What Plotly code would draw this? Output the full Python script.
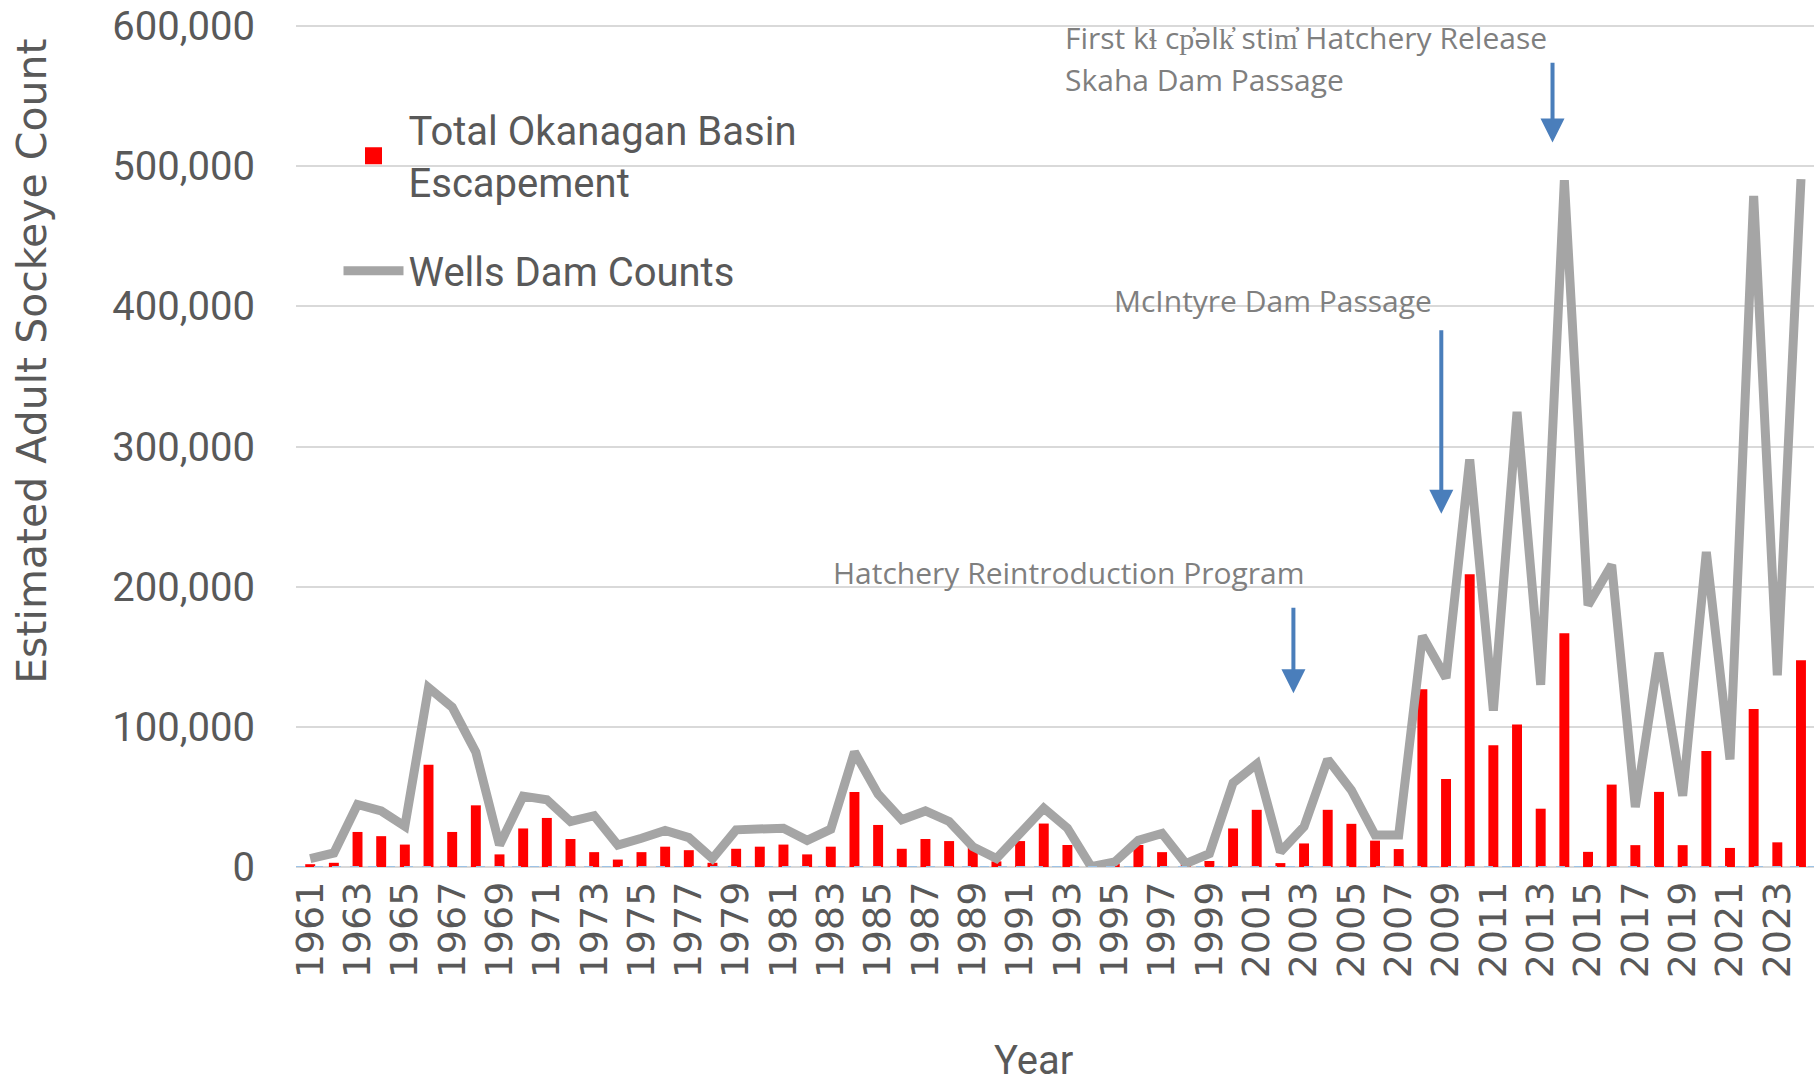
import plotly.graph_objects as go

years = list(range(1961, 2025))

escapement = [
    2000, 3000, 25000, 22000, 16000, 73000, 25000, 44000, 9000, 27500,
    35000, 20000, 10600, 5300, 10600, 14500, 12000, 3000, 13000, 14500,
    16000, 9000, 14500, 53500, 30000, 13000, 20000, 18500, 15700, 4000,
    18500, 31000, 15700, 500, 2500, 15700, 10600, 2000, 4300, 27500,
    40800, 2800, 16800, 40800, 30800, 18800, 12800, 126800, 62800, 208800,
    86800, 101600, 41600, 166800, 10800, 58800, 15600, 53600, 15600, 82800,
    13600, 112800, 17600, 147600,
]

wells = [
    6000, 10000, 44600, 40000, 29000, 128000, 114000, 82000, 15700, 50600,
    48000, 32500, 36600, 15700, 20500, 26000, 21000, 6000, 26500, 26500,
    27700, 19000, 27000, 82000, 52000, 33700, 40000, 32500, 14500, 6000,
    25000, 42000, 27700, 300, 3600, 19000, 24000, 2400, 9600, 60000,
    73500, 10800, 28800, 76800, 54800, 22800, 22800, 164800, 134800, 290800,
    111600, 324800, 130000, 490000, 186800, 215600, 42800, 152800, 50800, 224800,
    76800, 478800, 136800, 490800,
]

tick_years = list(range(1961, 2024, 2))
y_ticks = [0, 100000, 200000, 300000, 400000, 500000, 600000]
y_tick_text = ["0", "100,000", "200,000", "300,000", "400,000", "500,000", "600,000"]

# annotation events: (label lines, text x, text y, arrow x, arrow top, arrow bottom)
events = [
    (["Hatchery Reintroduction Program"], 1983.0, [210000], 2002.55, 186000, 124000),
    (["McIntyre Dam Passage"], 1994.9, [404000], 2008.8, 384000, 252000),
    (["First kɬ cp̓əlk̓ stim̓ Hatchery Release", "Skaha Dam Passage"], 1992.8, [592000, 562000], 2013.5, 575000, 517000),
]

FONT = "Roboto, sans-serif"
TXT = "#595959"
RED = "#FF0000"

fig = go.Figure()
fig.add_trace(go.Bar(
    x=years, y=escapement, name="Total Okanagan Basin<br>Escapement",
    marker=dict(color=RED, line=dict(width=0)), width=0.42,
    legendgroup="a", showlegend=False,
))
# legend-only entry (no data) so the swatch can be drawn larger
fig.add_trace(go.Bar(
    x=[None], y=[None], name="Total Okanagan Basin<br>Escapement",
    marker=dict(color=RED, line=dict(color=RED, width=5)),
    legendgroup="a", showlegend=True, hoverinfo="skip",
))
fig.add_trace(go.Scatter(
    x=years, y=wells, name="Wells Dam Counts", mode="lines",
    line=dict(color="#A5A5A5", width=9), legendgroup="b",
))

fig.add_hline(y=0, line=dict(color="#9DC3E6", width=2, dash="dash"), layer="above")

for lines, tx, tys, axx, ytop, ybot in events:
    for line, ty in zip(lines, tys):
        fig.add_annotation(x=tx, y=ty, xref="x", yref="y", text=line, showarrow=False,
                           xanchor="left", yanchor="middle",
                           font=dict(family="Open Sans", size=30, color="#7F7F7F"))
    fig.add_annotation(x=axx, y=ybot, ax=axx, ay=ytop, xref="x", yref="y",
                       axref="x", ayref="y", text="", showarrow=True,
                       arrowhead=2, arrowsize=1.2, arrowwidth=4, arrowcolor="#4A7EBB")

# axis titles as annotations (placed off-centre as in the original)
fig.add_annotation(x=-0.1735, y=0.60, xref="paper", yref="paper",
                   text="Estimated Adult Sockeye Count", textangle=-90, showarrow=False,
                   xanchor="center", yanchor="middle",
                   font=dict(family="DejaVu Sans", size=41, color=TXT))
fig.add_annotation(x=0.486, y=-0.229, xref="paper", yref="paper",
                   text="Year", showarrow=False, xanchor="center", yanchor="middle",
                   font=dict(family=FONT, size=40, color=TXT))

fig.update_layout(
    width=1818, height=1085,
    margin=dict(l=296, r=4, t=24, b=218),
    paper_bgcolor="white", plot_bgcolor="white",
    showlegend=True, barmode="overlay",
    legend=dict(x=0.028, y=0.913, xanchor="left", yanchor="top",
                font=dict(family=FONT, size=40, color=TXT),
                bgcolor="rgba(0,0,0,0)", itemwidth=60, tracegroupgap=34,
                traceorder="grouped"),
)
fig.update_xaxes(
    range=[1960.4, 2024.55], tickmode="array", tickvals=tick_years,
    ticktext=[str(y) for y in tick_years], tickangle=-90,
    tickfont=dict(family="DejaVu Sans", size=38, color=TXT),
    showgrid=False, showline=False, zeroline=False, ticks="",
    ticklabelstandoff=6, automargin=False,
)
fig.update_yaxes(
    range=[0, 601500], tickmode="array", tickvals=y_ticks, ticktext=y_tick_text,
    tickfont=dict(family=FONT, size=40, color=TXT),
    showgrid=True, gridcolor="#D9D9D9", gridwidth=2,
    zeroline=True, zerolinecolor="#D9D9D9", zerolinewidth=2,
    showline=False, ticks="", ticklabelstandoff=40, ticklabeloverflow="allow",
    automargin=False,
)

fig.write_html("out.html", config={"displayModeBar": False},
               post_script="document.body.style.margin='0';")
